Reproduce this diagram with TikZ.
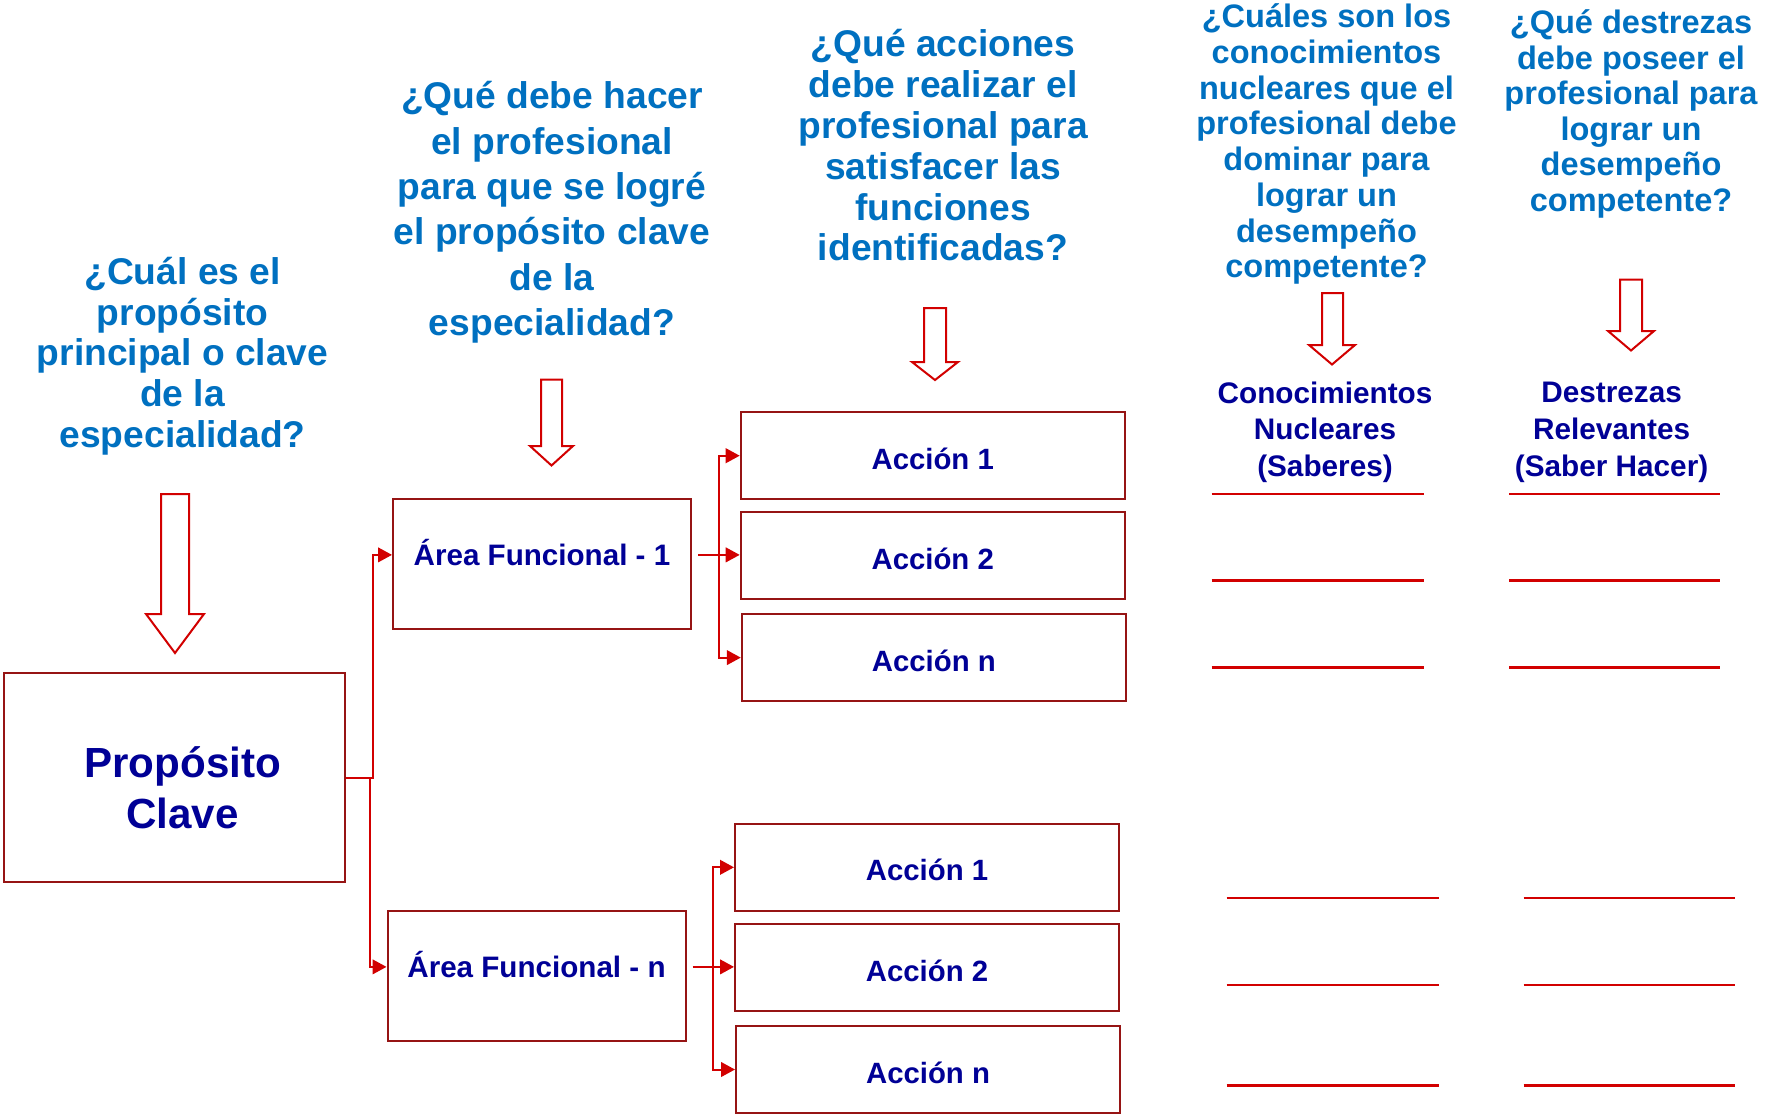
\documentclass[tikz,border=0pt]{standalone}
\usepackage{fontspec}
\setmainfont{Liberation Sans}
\usetikzlibrary{arrows.meta,calc}

\definecolor{qblue}{RGB}{0,112,192}
\definecolor{navyblue}{RGB}{0,0,150}
\definecolor{boxred}{RGB}{150,20,20}
\definecolor{linered}{RGB}{210,0,0}

\tikzset{
	question text/.style={text=qblue, align=center, inner sep=0pt},
	label text/.style={text=navyblue, align=center, inner sep=0pt, font=\bfseries\fontsize{22.3}{27.5}\selectfont},
	acc box/.style={draw=boxred, line width=1.5pt, text=navyblue, inner sep=0pt,
		minimum width=288pt, minimum height=65.3pt, text height=20.3pt, text depth=0pt,
		font=\bfseries\fontsize{22}{26}\selectfont},
	area box/.style={draw=boxred, line width=1.5pt, text=navyblue, inner ysep=0pt,
		minimum width=223.5pt, text height=49.8pt, text depth=47.7pt, font=\bfseries\fontsize{22.2}{26}\selectfont},
	conn line/.style={draw=linered, line width=1.5pt, -{Triangle[length=10.5pt,width=11pt]}},
	conn both/.style={draw=linered, line width=1.5pt, {Triangle[length=10.5pt,width=11pt]}-{Triangle[length=10.5pt,width=11pt]}},
	hollow arrow/.style={draw=linered, line width=1.5pt, fill=white},
	blank line/.style={draw=linered, line width=2.2pt}
}
\tikzset{every picture/.style={line width=0.75pt}}

\begin{document}
\begin{tikzpicture}[x=0.75pt,y=0.75pt,yscale=-1,xscale=1]
	\useasboundingbox (0,0) rectangle (1767,1118);

	%Down Arrow [purpose]
	\draw [hollow arrow] (161,494) -- (189,494) -- (189,614) -- (204,614) -- (175,653) -- (146,614) -- (161,614) -- cycle ;
	%Down Arrow [areas]
	\draw [hollow arrow] (541,379.5) -- (562,379.5) -- (562,446) -- (573,446) -- (551.5,465.5) -- (530,446) -- (541,446) -- cycle ;
	%Down Arrow [acciones]
	\draw [hollow arrow] (924,308) -- (946,308) -- (946,362) -- (958,362) -- (935,380) -- (912,362) -- (924,362) -- cycle ;
	%Down Arrow [saberes]
	\draw [hollow arrow] (1322,293) -- (1343,293) -- (1343,345) -- (1355,345) -- (1332,364.5) -- (1309,345) -- (1322,345) -- cycle ;
	%Down Arrow [saber hacer]
	\draw [hollow arrow] (1620,279.5) -- (1642,279.5) -- (1642,331) -- (1654,331) -- (1631,350.5) -- (1608,331) -- (1620,331) -- cycle ;

	% Text Node
	\node [question text, font=\bfseries\fontsize{27.9}{30.6}\selectfont] (qprop) at (182.6,356.2) {¿Cuál es el\\propósito\\principal o clave\\de la\\especialidad?};
	% Text Node
	\node [question text, font=\bfseries\fontsize{27.9}{34}\selectfont] (qarea) at (552,212.4) {¿Qué debe hacer\\el profesional\\para que se logré\\el propósito clave\\de la\\especialidad?};
	% Text Node
	\node [question text, font=\bfseries\fontsize{27.9}{30.6}\selectfont] (qacc) at (943,145.5) {¿Qué acciones\\debe realizar el\\profesional para\\satisfacer las\\funciones\\identificadas?};
	% Text Node
	\node [question text, font=\bfseries\fontsize{24.4}{26.8}\selectfont] (qsab) at (1326.5,144.3) {¿Cuáles son los\\conocimientos\\nucleares que el\\profesional debe\\dominar para\\lograr un\\desempeño\\competente?};
	% Text Node
	\node [question text, font=\bfseries\fontsize{24.4}{26.7}\selectfont] (qdes) at (1631,113.9) {¿Qué destrezas\\debe poseer el\\profesional para\\lograr un\\desempeño\\competente?};
	% Text Node
	\node [label text] (saberes) at (1325,432.3) {Conocimientos\\Nucleares\\(Saberes)};
	% Text Node
	\node [label text] (saberhacer) at (1611.6,432.3) {Destrezas\\Relevantes\\(Saber Hacer)};

	%Shape: Rectangle [propósito]
	\node [draw=boxred, line width=1.5pt, minimum width=255.4pt, minimum height=157pt] (prop) at (174.7,777.7) {};
	% Text Node
	\node [text=navyblue, align=center, inner sep=0pt, font=\bfseries\fontsize{31.6}{38.3}\selectfont] (proptext) at (182.6,787.3) {Propósito\\Clave};
	%Shape: Rectangle [áreas]
	\node [area box] (area1) at (542,564) {Área Funcional - 1};
	\node [area box] (arean) at (536.5,976) {Área Funcional - n};
	%Shape: Rectangle [acciones 1]
	\node [acc box] (a11) at (932.7,455.7) {Acción 1};
	\node [acc box] (a12) at (932.7,555.7) {Acción 2};
	\node [acc box] (a1n) at (933.8,657.6) {Acción n};
	%Shape: Rectangle [acciones n]
	\node [acc box] (an1) at (927,867.3) {Acción 1};
	\node [acc box] (an2) at (927,967.6) {Acción 2};
	\node [acc box] (ann) at (928,1069.5) {Acción n};

	% Connectors
	\draw [conn line] (prop.east) -- ++(27,0) |- ($(area1.mid west)+(0,-7)$);
	\draw [conn line] (prop.east) -- ++(24,0) |- ($(arean.mid west)+(0,-7)$);
	\draw [conn line, shorten <=4.5pt] ($(area1.mid east)+(0,-7)$) -- ($(area1.mid east -| a12.west)+(0,-7)$);
	\draw [conn both] (a11.west) -- ++(-21,0) |- (a1n.west);
	\draw [conn line, shorten <=4.5pt] ($(arean.mid east)+(0,-7)$) -- ($(arean.mid east -| an2.west)+(0,-7)$);
	\draw [conn both] (an1.west) -- ++(-21,0) |- (ann.west);

	% Blank Lines
	\draw [blank line] (1211.5,494) -- (1424,494);
	\draw [blank line] (1211.5,580.5) -- (1424,580.5);
	\draw [blank line] (1211.5,667.5) -- (1424,667.5);
	\draw [blank line] (1226.5,898) -- (1439,898);
	\draw [blank line] (1226.5,985) -- (1439,985);
	\draw [blank line] (1226.5,1085.5) -- (1439,1085.5);
	\draw [blank line] (1509,494) -- (1720,494);
	\draw [blank line] (1509,580.5) -- (1720,580.5);
	\draw [blank line] (1509,667.5) -- (1720,667.5);
	\draw [blank line] (1523.5,898) -- (1735,898);
	\draw [blank line] (1523.5,985) -- (1735,985);
	\draw [blank line] (1523.5,1085.5) -- (1735,1085.5);

\end{tikzpicture}
\end{document}
